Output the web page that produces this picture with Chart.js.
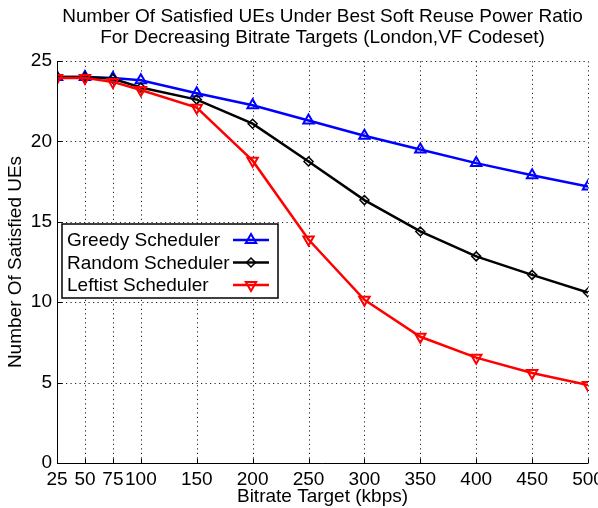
<!DOCTYPE html>
<html>
<head>
<meta charset="utf-8">
<script src="https://cdn.jsdelivr.net/npm/chart.js@4"></script>
<style>
  body { margin: 0; background: #fff; }
  #wrap { width: 598px; height: 508px; position: relative; }
</style>
</head>
<body>
<div id="wrap"><canvas id="chartSatisfied"></canvas></div>
<script>
const bitrates = [25, 50, 75, 100, 150, 200, 250, 300, 350, 400, 450, 500];
const xTicks = [25, 50, 75, 100, 150, 200, 250, 300, 350, 400, 450, 500];
const yTicks = [0, 5, 10, 15, 20, 25];
const greedyUEs = [24.0, 24.0, 23.95, 23.8, 23.0, 22.25, 21.3, 20.35, 19.5, 18.65, 17.9, 17.2];
const randomUEs = [24.0, 24.0, 23.9, 23.35, 22.6, 21.1, 18.75, 16.35, 14.4, 12.85, 11.7, 10.6];
const leftistUEs = [23.95, 23.95, 23.7, 23.2, 22.1, 18.8, 13.9, 10.15, 7.85, 6.55, 5.6, 4.85];
const titleLines = ["Number Of Satisfied UEs Under Best Soft Reuse Power Ratio",
  "For Decreasing Bitrate Targets (London,VF Codeset)"];

const FONT = "'Liberation Sans', Arial, Helvetica, sans-serif";
const ctx = document.getElementById("chartSatisfied");

function puntos(valores) {
  return bitrates.map((b, i) => ({ x: b, y: valores[i] }));
}

// rejilla punteada desde las escalas
const rejillaPlugin = {
  id: "rejilla",
  beforeDatasetsDraw(chart) {
    const c = chart.ctx;
    const area = chart.chartArea;
    const xs = chart.scales.x;
    const ys = chart.scales.y;
    c.save();
    c.strokeStyle = "#222";
    c.lineWidth = 1;
    c.setLineDash([1.2, 3.3]);
    c.beginPath();
    xTicks.forEach(v => {
      const px = Math.round(xs.getPixelForValue(v)) + 0.5;
      c.moveTo(px, area.bottom);
      c.lineTo(px, area.top);
    });
    yTicks.forEach(v => {
      const py = Math.round(ys.getPixelForValue(v)) + 0.5;
      c.moveTo(area.left, py);
      c.lineTo(area.right, py);
    });
    c.stroke();
    c.restore();
  }
};

// titulo centrado sobre el area del grafico, leyenda dentro del area y ticks hacia adentro
const extrasPlugin = {
  id: "extras",
  afterDraw(chart) {
    const c = chart.ctx;
    const area = chart.chartArea;
    const xs = chart.scales.x;
    const ys = chart.scales.y;
    c.save();
    // ejes y ticks interiores
    c.strokeStyle = "#000";
    c.lineWidth = 1;
    c.setLineDash([]);
    c.beginPath();
    const x0 = Math.round(area.left) + 0.5;
    const y0 = Math.round(area.bottom) + 0.5;
    c.moveTo(x0, area.top);
    c.lineTo(x0, y0);
    c.lineTo(area.right, y0);
    yTicks.forEach(v => {
      const py = Math.round(ys.getPixelForValue(v)) + 0.5;
      c.moveTo(x0, py);
      c.lineTo(x0 + 5, py);
    });
    xTicks.forEach(v => {
      const px = Math.round(xs.getPixelForValue(v)) + 0.5;
      c.moveTo(px, y0);
      c.lineTo(px, y0 - 5);
    });
    c.stroke();

    // titulo
    c.fillStyle = "#000";
    c.font = "19px " + FONT;
    c.textAlign = "center";
    c.textBaseline = "middle";
    const cx = (area.left + area.right) / 2;
    c.fillText(titleLines[0], cx, 17);
    c.fillText(titleLines[1], cx, 38);

    // leyenda
    const bx = 62, by = 224, bw = 216, bh = 74;
    c.fillStyle = "#fff";
    c.fillRect(bx, by, bw, bh);
    c.strokeStyle = "#000";
    c.lineWidth = 1.5;
    c.strokeRect(bx, by, bw, bh);
    c.font = "19px " + FONT;
    c.textAlign = "left";
    chart.data.datasets.forEach((ds, i) => {
      const ry = 240 + i * 22.5;
      c.fillStyle = "#000";
      c.fillText(ds.label, 67, ry + 1);
      c.strokeStyle = ds.borderColor;
      c.lineWidth = ds.borderWidth;
      c.beginPath();
      c.moveTo(233, ry);
      c.lineTo(269, ry);
      c.stroke();
      c.fillStyle = ds.pointBackgroundColor;
      c.lineWidth = ds.pointBorderWidth;
      Chart.helpers.drawPoint(c, {
        pointStyle: ds.pointStyle,
        radius: ds.pointRadius,
        rotation: ds.pointRotation || 0,
        borderWidth: ds.pointBorderWidth
      }, 251, ry);
    });
    c.restore();
  }
};

const chart = new Chart(ctx, {
  type: "line",
  data: {
    datasets: [
      {
        label: "Greedy Scheduler",
        data: puntos(greedyUEs),
        borderColor: "rgb(0, 0, 255)",
        borderWidth: 2.5,
        pointStyle: "triangle",
        pointRadius: 6,
        pointBorderWidth: 2,
        pointBackgroundColor: "rgba(0,0,0,0)",
        order: 2,
      },
      {
        label: "Random Scheduler",
        data: puntos(randomUEs),
        borderColor: "rgb(0, 0, 0)",
        borderWidth: 2.5,
        pointStyle: "rectRot",
        pointRadius: 4.5,
        pointBorderWidth: 1.5,
        pointBackgroundColor: "rgba(0,0,0,0)",
        order: 1,
      },
      {
        label: "Leftist Scheduler",
        data: puntos(leftistUEs),
        borderColor: "rgb(255, 0, 0)",
        borderWidth: 2.5,
        pointStyle: "triangle",
        pointRotation: 180,
        pointRadius: 6,
        pointBorderWidth: 2,
        pointBackgroundColor: "rgba(0,0,0,0)",
        order: 0,
      },
    ],
  },
  options: {
    responsive: true,
    maintainAspectRatio: false,
    animation: false,
    layout: { padding: { top: 61, right: 10, left: 0, bottom: 0 } },
    plugins: {
      legend: { display: false },
      title: { display: false },
      tooltip: { enabled: false },
    },
    elements: { line: { tension: 0 } },
    scales: {
      x: {
        type: "linear",
        min: 25,
        max: 500,
        afterBuildTicks: (scale) => { scale.ticks = xTicks.map(v => ({ value: v })); },
        afterFit: (scale) => { scale.height = 45; scale.paddingLeft = 0; scale.paddingRight = 0; },
        ticks: {
          autoSkip: false,
          maxRotation: 0,
          padding: 5,
          color: "#000",
          font: { family: FONT, size: 19 },
        },
        grid: { display: false, drawTicks: false },
        border: { display: false },
        title: {
          display: true,
          text: "Bitrate Target (kbps)",
          color: "#000",
          font: { family: FONT, size: 19 },
          padding: { top: 0, bottom: 0 },
        },
      },
      y: {
        min: 0,
        max: 25,
        afterBuildTicks: (scale) => { scale.ticks = yTicks.map(v => ({ value: v })); },
        afterFit: (scale) => { scale.width = 57; },
        ticks: {
          padding: 5,
          color: "#000",
          font: { family: FONT, size: 19 },
        },
        grid: { display: false, drawTicks: false },
        border: { display: false },
        title: {
          display: true,
          text: "Number Of Satisfied UEs",
          color: "#000",
          font: { family: FONT, size: 19 },
          padding: { top: 4, bottom: 0 },
        },
      },
    },
  },
  plugins: [rejillaPlugin, extrasPlugin],
});
</script>
</body>
</html>
